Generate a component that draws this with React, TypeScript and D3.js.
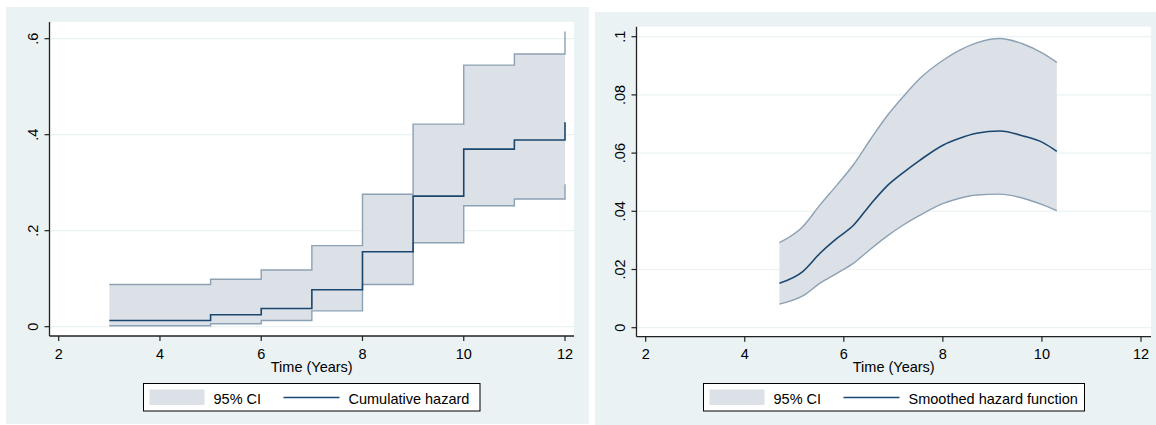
import React from 'react';
import * as d3 from 'd3';

// left panel: cumulative hazard (step function)
const stepTimes = [3, 5, 6, 7, 8, 9, 10, 11, 12];
const cumHazard = [0.013, 0.025, 0.038, 0.077, 0.156, 0.272, 0.370, 0.389, 0.426];
const cumUpper = [0.088, 0.099, 0.118, 0.169, 0.276, 0.422, 0.545, 0.568, 0.615];
const cumLower = [0.002, 0.006, 0.013, 0.033, 0.088, 0.175, 0.252, 0.266, 0.297];

// right panel: smoothed hazard function
const smoothTimes = [4.70, 5.17, 5.52, 5.86, 6.19, 6.53, 6.86, 7.20, 7.54, 8.01, 8.34, 8.68, 9.15, 9.62, 10.02, 10.30];
const smoothHazard = [0.0153, 0.0193, 0.0256, 0.0307, 0.0351, 0.0422, 0.0485, 0.0533, 0.0576, 0.0628, 0.0651, 0.0668, 0.0676, 0.0659, 0.0636, 0.0606];
const smoothUpper = [0.0292, 0.0347, 0.0422, 0.0490, 0.0559, 0.0645, 0.0725, 0.0794, 0.0857, 0.0920, 0.0954, 0.0979, 0.0994, 0.0975, 0.0943, 0.0912];
const smoothLower = [0.0081, 0.0109, 0.0153, 0.0187, 0.0221, 0.0269, 0.0313, 0.0353, 0.0387, 0.0427, 0.0445, 0.0456, 0.0459, 0.0445, 0.0422, 0.0402];

const xTicks = [2, 4, 6, 8, 10, 12];
const leftYTicks = [0, 0.2, 0.4, 0.6];
const leftYLabels = ['0', '.2', '.4', '.6'];
const rightYTicks = [0, 0.02, 0.04, 0.06, 0.08, 0.1];
const rightYLabels = ['0', '.02', '.04', '.06', '.08', '.1'];

const bg = '#eaf2f3';
const ciFill = '#dce0e7';
const ciLine = '#8da1b4';
const navy = '#1a476f';
const fontSize = 14.5;

type Row = { t: number; v: number; lo: number; hi: number };

function Panel(props: any) {
  const { outer, box, x, y, yTicks, yLabels, yLabelX, rows, curve, legend, label } = props;

  const area = d3.area<Row>()
    .x((d) => x(d.t))
    .y0((d) => y(d.lo))
    .y1((d) => y(d.hi))
    .curve(curve);
  const line = (acc: (d: Row) => number) => d3.line<Row>()
    .x((d) => x(d.t))
    .y((d) => y(acc(d)))
    .curve(curve)(rows);

  return (
    <g>
      <rect x={outer.x} y={outer.y} width={outer.w} height={outer.h} fill={bg} />
      <rect x={box.l} y={box.t} width={box.r - box.l} height={box.b - box.t} fill="#fff" />
      {/* gridlines */}
      {yTicks.map((v: number) => (
        <line key={'g' + v} x1={box.l} x2={box.r} y1={y(v)} y2={y(v)} stroke={bg} strokeWidth={1.2} />
      ))}
      {/* CI band */}
      <path d={area(rows) || ''} fill={ciFill} stroke="none" />
      <path d={line((d) => d.hi) || ''} fill="none" stroke={ciLine} strokeWidth={1.4} />
      <path d={line((d) => d.lo) || ''} fill="none" stroke={ciLine} strokeWidth={1.4} />
      <path d={line((d) => d.v) || ''} fill="none" stroke={navy} strokeWidth={1.6} />
      {/* axes */}
      <line x1={box.l} x2={box.l} y1={box.t} y2={box.b} stroke="#222" strokeWidth={1.3} />
      <line x1={box.l} x2={box.r} y1={box.b} y2={box.b} stroke="#222" strokeWidth={1.3} />
      {yTicks.map((v: number, i: number) => (
        <g key={'y' + v}>
          <line x1={box.l - 5} x2={box.l} y1={y(v)} y2={y(v)} stroke="#222" strokeWidth={1.2} />
          <text transform={`translate(${yLabelX},${y(v)}) rotate(-90)`} textAnchor="middle" fontSize={fontSize}>
            {yLabels[i]}
          </text>
        </g>
      ))}
      {xTicks.map((v) => (
        <g key={'x' + v}>
          <line x1={x(v)} x2={x(v)} y1={box.b} y2={box.b + 5} stroke="#222" strokeWidth={1.2} />
          <text x={x(v)} y={box.b + 22.5} textAnchor="middle" fontSize={fontSize}>{v}</text>
        </g>
      ))}
      <text x={(box.l + box.r) / 2} y={box.b + 35.5} textAnchor="middle" fontSize={fontSize}>Time (Years)</text>
      {/* legend */}
      <rect x={legend.x} y={383.5} width={legend.w} height={27.5} fill="#fff" stroke="#000" strokeWidth={1} />
      <rect x={legend.x + 6} y={389.5} width={55} height={15.5} fill={ciFill} />
      <text x={legend.x + 70} y={404} fontSize={fontSize}>95% CI</text>
      <line x1={legend.x + 140} x2={legend.x + 196} y1={397.5} y2={397.5} stroke={navy} strokeWidth={1.5} />
      <text x={legend.x + 205} y={404} fontSize={fontSize}>{label}</text>
    </g>
  );
}

export default function App() {
  const leftRows: Row[] = stepTimes.map((t, i) => ({ t, v: cumHazard[i], lo: cumLower[i], hi: cumUpper[i] }));
  const rightRows: Row[] = smoothTimes.map((t, i) => ({ t, v: smoothHazard[i], lo: smoothLower[i], hi: smoothUpper[i] }));

  const leftX = d3.scaleLinear().domain([2, 12]).range([58.7, 565]);
  const leftY = d3.scaleLinear().domain([0, 0.6]).range([326.7, 38.7]);
  const rightX = d3.scaleLinear().domain([2, 12]).range([645.7, 1141]);
  const rightY = d3.scaleLinear().domain([0, 0.1]).range([327.7, 36.7]);

  return (
    <svg width={1156} height={425} style={{ position: 'absolute', left: 0, top: 0, background: '#fff' }}
      fontFamily="'Liberation Sans', Arial, sans-serif">
      <Panel
        outer={{ x: 6, y: 7, w: 583, h: 417 }}
        box={{ l: 49.5, r: 574, t: 22, b: 336 }}
        x={leftX} y={leftY}
        yTicks={leftYTicks} yLabels={leftYLabels} yLabelX={37.5}
        rows={leftRows} curve={d3.curveStepAfter}
        legend={{ x: 143.5, w: 336.5 }}
        label="Cumulative hazard"
      />
      <Panel
        outer={{ x: 595, y: 12, w: 561, h: 413 }}
        box={{ l: 636.5, r: 1151, t: 26.7, b: 336.7 }}
        x={rightX} y={rightY}
        yTicks={rightYTicks} yLabels={rightYLabels} yLabelX={624.5}
        rows={rightRows} curve={d3.curveMonotoneX}
        legend={{ x: 703.5, w: 381 }}
        label="Smoothed hazard function"
      />
    </svg>
  );
}
